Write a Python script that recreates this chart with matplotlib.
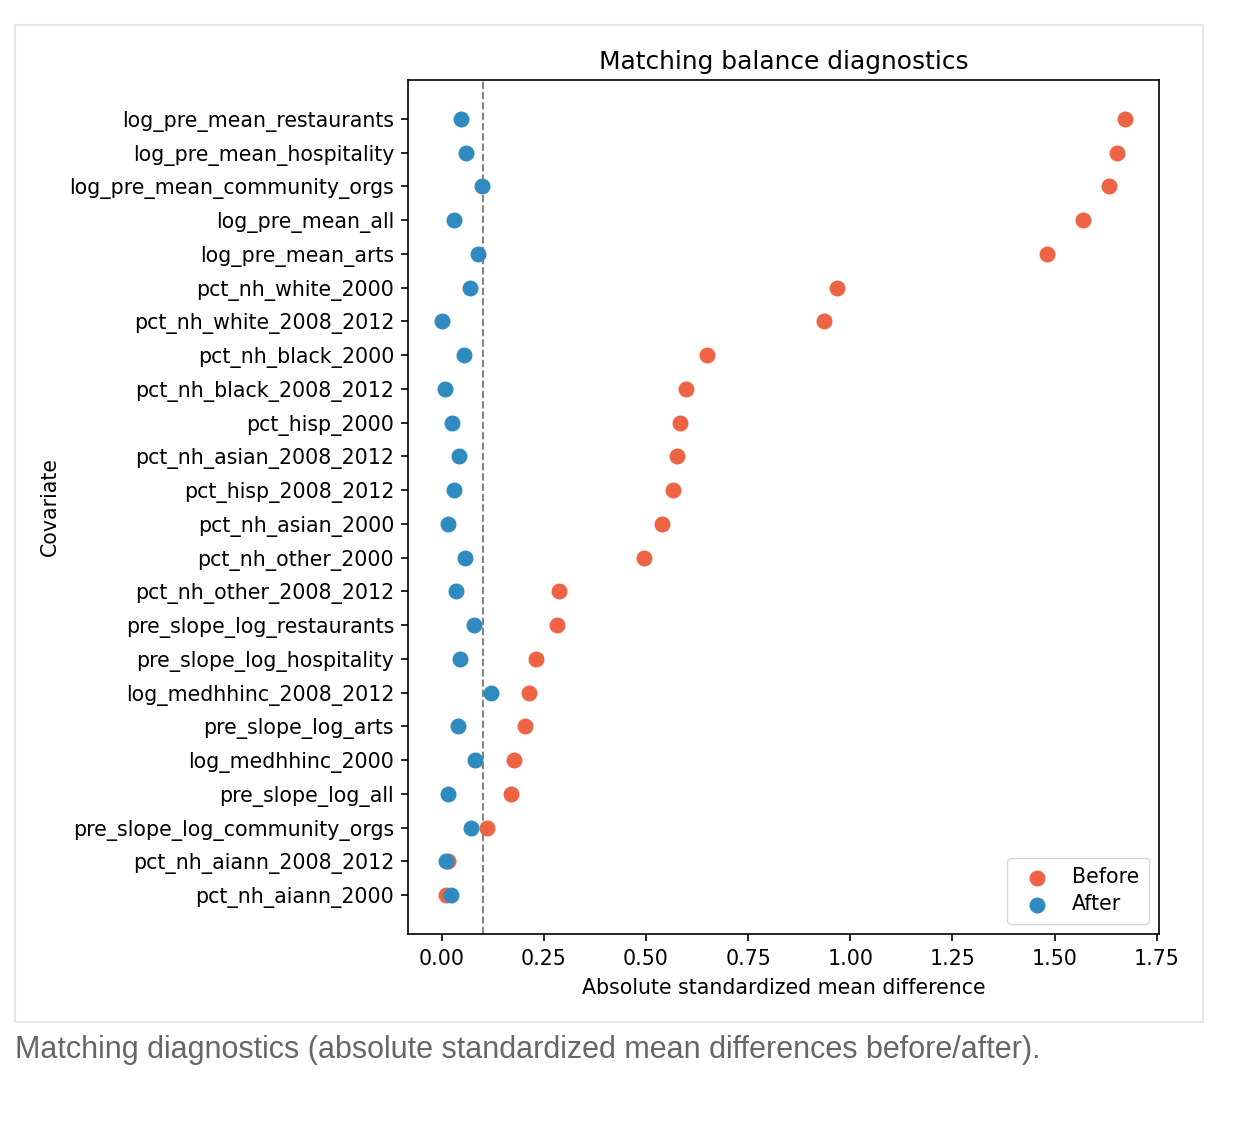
import matplotlib
matplotlib.use("Agg")
import matplotlib.pyplot as plt
from matplotlib.patches import Rectangle


# Data -----------------------------------------------------------------------

covariates = [
    "log_pre_mean_restaurants", "log_pre_mean_hospitality",
    "log_pre_mean_community_orgs", "log_pre_mean_all", "log_pre_mean_arts",
    "pct_nh_white_2000", "pct_nh_white_2008_2012", "pct_nh_black_2000",
    "pct_nh_black_2008_2012", "pct_hisp_2000", "pct_nh_asian_2008_2012",
    "pct_hisp_2008_2012", "pct_nh_asian_2000", "pct_nh_other_2000",
    "pct_nh_other_2008_2012", "pre_slope_log_restaurants",
    "pre_slope_log_hospitality", "log_medhhinc_2008_2012",
    "pre_slope_log_arts", "log_medhhinc_2000", "pre_slope_log_all",
    "pre_slope_log_community_orgs", "pct_nh_aiann_2008_2012",
    "pct_nh_aiann_2000",
]

smd_before = [1.672, 1.653, 1.633, 1.570, 1.482, 0.968, 0.936, 0.650,
              0.597, 0.582, 0.577, 0.565, 0.538, 0.494, 0.286, 0.281,
              0.230, 0.213, 0.203, 0.178, 0.169, 0.112, 0.016, 0.010]

smd_after = [0.046, 0.059, 0.098, 0.029, 0.088, 0.068, 0.001, 0.054,
             0.007, 0.024, 0.042, 0.029, 0.015, 0.056, 0.034, 0.078,
             0.044, 0.120, 0.039, 0.081, 0.015, 0.071, 0.011, 0.022]

threshold = 0.1

caption = ("Matching diagnostics (absolute standardized mean differences "
           "before/after).")


# Figure ---------------------------------------------------------------------

fig = plt.figure(figsize=(12.6, 11.32), dpi=100)

# light frame round the chart, like the page it came from
fig.patches.append(Rectangle((15 / 1260, 1 - 1022 / 1132),
                             1188 / 1260, 997 / 1132,
                             transform=fig.transFigure, fill=False,
                             edgecolor="#e6e6e6", linewidth=1.5))

ax = fig.add_axes([408 / 1260, 1 - 934 / 1132, 751 / 1260, 854 / 1132])

ypos = list(range(len(covariates)))[::-1]

ax.scatter(smd_before, ypos, s=110, color="#EE6344", label="Before",
           zorder=3)
ax.scatter(smd_after, ypos, s=110, color="#2F8AC0", label="After",
           zorder=3)

ax.axvline(threshold, color="grey", linestyle="--", linewidth=1.4)

ax.set_yticks(ypos)
ax.set_yticklabels(covariates)
ax.set_xticks([0, 0.25, 0.5, 0.75, 1.0, 1.25, 1.5, 1.75])
ax.set_xticklabels(["0.00", "0.25", "0.50", "0.75", "1.00", "1.25",
                    "1.50", "1.75"])

ax.tick_params(labelsize=14.8, length=5, width=1.2)
ax.tick_params(axis="y", pad=5)
ax.tick_params(axis="x", pad=6)
for sp in ax.spines.values():
    sp.set_linewidth(1.2)

ax.set_xlabel("Absolute standardized mean difference", fontsize=14.8,
              labelpad=6)
ax.set_ylabel("Covariate", fontsize=14.8, labelpad=7)
ax.set_title("Matching balance diagnostics", fontsize=17.9, pad=8)

ax.legend(loc="lower right", fontsize=14.8, borderpad=0.45,
          handletextpad=0.7, labelspacing=0.35)

fig.text(15 / 1260, 1 - 1058 / 1132, caption, fontsize=22,
         color="#666666", family="Liberation Sans",
         va="baseline", ha="left")

fig.savefig("out.png", dpi=100)
